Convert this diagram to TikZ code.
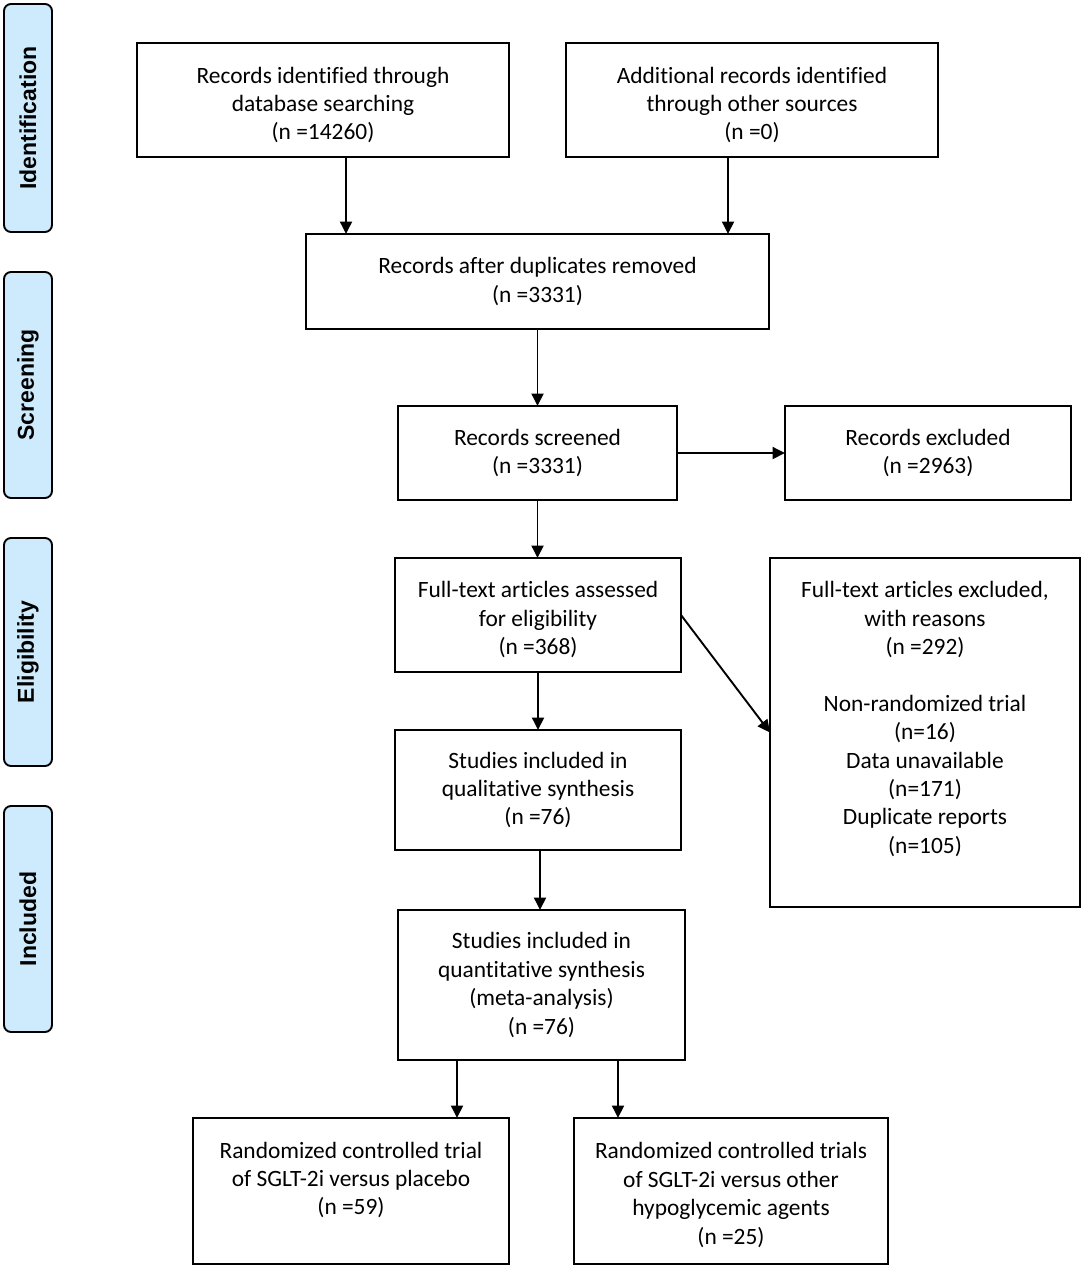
\documentclass[tikz,border=0pt]{standalone}
\usepackage{fontspec}
\setmainfont{Carlito}[Ligatures=NoCommon]
\newfontfamily\sidefont{Liberation Sans}
\usetikzlibrary{arrows.meta,positioning,calc}
\definecolor{sideblue}{RGB}{205,235,252}
\tikzset{
  box/.style={draw=black, line width=1.9pt, rectangle, inner sep=0pt, outer sep=0pt,
    align=center, font=\fontsize{23.4}{28.4}\selectfont},
  txt/.style={inner sep=0pt, align=center, font=\fontsize{23.4}{28.4}\selectfont},
  side/.style={draw=black, line width=1.9pt, fill=sideblue, rounded corners=7pt,
    inner sep=0pt, outer sep=0pt,
    font=\sidefont\bfseries\fontsize{23}{26}\selectfont, rotate=90},
  arr/.style={line width=1.9pt, -{Triangle[length=12.5pt,width=12pt]}}
}
\begin{document}
\begin{tikzpicture}[x=1pt,y=-1pt]
\useasboundingbox (0,0) rectangle (1084,1269);
% side labels
\node[side, minimum width=228pt, minimum height=48pt] (sid) at (28,118) {Identification};
\node[side, minimum width=226pt, minimum height=48pt] (sscr) at (28,385) {Screening};
\node[side, minimum width=228pt, minimum height=48pt] (selg) at (28,652) {Eligibility};
\node[side, minimum width=226pt, minimum height=48pt] (sinc) at (28,919) {Included};
% boxes
\node[box, minimum width=372pt, minimum height=114pt] (b1) at (323,100) {};
\node[txt] (t1) at (323,105) {Records identified through\\database searching\\(n =14260)};
\node[box, minimum width=372pt, minimum height=114pt] (b2) at (752,100) {};
\node[txt] (t2) at (752,105) {Additional records identified\\through other sources\\(n =0)};
\node[box, minimum width=463pt, minimum height=95pt] (b3) at (537.5,281.5) {Records after duplicates removed\\(n =3331)};
\node[box, minimum width=279pt, minimum height=94pt] (b4) at (537.5,453) {Records screened\\(n =3331)};
\node[box, minimum width=286pt, minimum height=94pt] (b5) at (928,453) {Records excluded\\(n =2963)};
\node[box, minimum width=286pt, minimum height=114pt] (b6) at (538,615) {};
\node[txt] (t6) at (538,619.5) {Full-text articles assessed\\for eligibility\\(n =368)};
\node[box, minimum width=310pt, minimum height=349pt] (b7) at (925,732.5) {};
\node[txt] (t7) at (925,719) {Full-text articles excluded,\\with reasons\\(n =292)\\[28.4pt]Non-randomized trial\\(n=16)\\Data unavailable\\(n=171)\\Duplicate reports\\(n=105)};
\node[box, minimum width=286pt, minimum height=120pt] (b8) at (538,790) {Studies included in\\qualitative synthesis\\(n =76)};
\node[box, minimum width=287pt, minimum height=150pt] (b9) at (541.5,985) {Studies included in\\quantitative synthesis\\(meta-analysis)\\(n =76)};
\node[box, minimum width=316pt, minimum height=146pt] (b10) at (351,1191) {};
\node[txt] (t10) at (351,1180) {Randomized controlled trial\\of SGLT-2i versus placebo\\(n =59)};
\node[box, minimum width=314pt, minimum height=146pt] (b11) at (731,1191) {};
\node[txt] (t11) at (731,1195) {Randomized controlled trials\\of SGLT-2i versus other\\hypoglycemic agents\\(n =25)};
% connectors
\draw[arr] ([xshift=23pt]b1.south) -- ([xshift=23pt]b1.south |- b3.north);
\draw[arr] ([xshift=-24pt]b2.south) -- ([xshift=-24pt]b2.south |- b3.north);
\draw[arr] (b3.south) -- (b3.south |- b4.north);
\draw[arr] (b4.east) -- (b5.west);
\draw[arr] (b4.south) -- (b4.south |- b6.north);
\draw[arr] (b6.east) -- (b7.west);
\draw[arr] (b6.south) -- (b6.south |- b8.north);
\draw[arr] ([xshift=2pt]b8.south) -- ([xshift=2pt]b8.south |- b9.north);
\draw[arr] ([xshift=-84.5pt]b9.south) -- ([xshift=-84.5pt]b9.south |- b10.north);
\draw[arr] ([xshift=76.5pt]b9.south) -- ([xshift=76.5pt]b9.south |- b11.north);
\end{tikzpicture}
\end{document}
